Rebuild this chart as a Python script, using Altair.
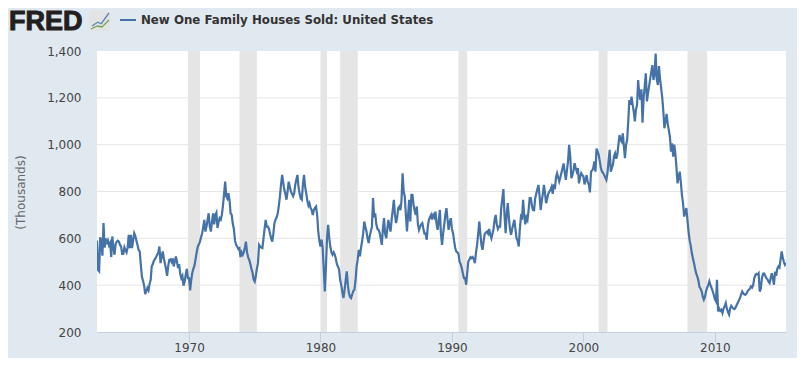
import altair as alt
import pandas as pd

# Monthly sales (thousands), January of each first year onward
v1963_69 = [
    591, 464, 459, 605, 586, 526, 665, 560, 600, 575, 590, 570,
    580, 520, 608, 560, 530, 575, 586, 590, 586, 572, 565, 534,
    534, 562, 550, 540, 560, 615, 558, 615, 558, 590, 622, 610,
    590, 570, 550, 545, 490, 437, 420, 400, 362, 375, 388, 378,
    405, 423, 480, 490, 505, 511, 520, 530, 540, 565, 494, 520,
    544, 515, 494, 470, 440, 480, 508, 510, 500, 515, 480, 500,
    523, 500, 473, 490, 449, 430, 440, 398, 415, 444, 470, 430,
]
v1970_79 = [
    430, 378, 420, 452, 470, 483, 510, 540, 565, 575, 586, 605,
    622, 650, 679, 629, 650, 680, 707, 650, 629, 670, 707, 660,
    700, 710, 644, 670, 686, 680, 700, 740, 790, 842, 779, 770,
    793, 760, 707, 700, 662, 640, 590, 572, 565, 555, 558, 520,
    540, 530, 540, 560, 586, 540, 520, 508, 490, 470, 452, 425,
    416, 440, 470, 494, 572, 565, 560, 558, 600, 640, 679, 650,
    650, 640, 620, 600, 586, 620, 665, 680, 690, 707, 740, 779,
    830, 871, 840, 807, 790, 765, 800, 842, 820, 800, 790, 780,
    793, 830, 850, 871, 820, 790, 770, 765, 830, 871, 820, 793,
    760, 740, 750, 730, 721, 700, 720, 730, 736, 700, 629, 590,
]
v1980_89 = [
    565, 594, 560, 470, 373, 480, 600, 658, 600, 565, 540, 530,
    540, 530, 515, 490, 480, 466, 423, 400, 370, 345, 380, 420,
    459, 400, 366, 350, 345, 360, 375, 380, 420, 480, 510, 551,
    523, 560, 586, 620, 672, 650, 630, 600, 580, 610, 630, 650,
    772, 690, 707, 660, 640, 636, 625, 600, 572, 640, 686, 620,
    600, 640, 679, 650, 629, 680, 720, 764, 700, 665, 690, 729,
    736, 720, 760, 878, 800, 779, 700, 629, 700, 764, 672, 786,
    786, 740, 720, 700, 736, 660, 636, 650, 660, 665, 640, 620,
    620, 594, 650, 679, 690, 700, 680, 700, 690, 714, 660, 636,
    680, 721, 620, 572, 620, 658, 700, 729, 680, 636, 670, 686,
]
v1990_99 = [
    640, 622, 590, 560, 544, 540, 534, 500, 490, 473, 450, 430,
    430, 402, 450, 501, 510, 520, 515, 520, 510, 494, 540, 572,
    620, 672, 620, 570, 551, 590, 620, 625, 629, 620, 640, 615,
    600, 620, 640, 680, 700, 660, 640, 650, 650, 729, 770, 810,
    700, 622, 700, 750, 690, 640, 615, 640, 660, 679, 640, 600,
    590, 565, 636, 690, 680, 764, 700, 660, 690, 679, 720, 772,
    772, 740, 721, 720, 770, 790, 810, 828, 780, 721, 760, 790,
    828, 790, 750, 770, 790, 800, 807, 820, 790, 830, 810, 860,
    878, 860, 843, 860, 880, 900, 920, 880, 850, 890, 930, 999,
    950, 857, 870, 890, 921, 900, 885, 900, 835, 860, 878, 870,
]
v2000_09 = [
    865, 830, 850, 870, 840, 830, 796, 885, 890, 900, 928, 885,
    983, 970, 957, 930, 900, 885, 880, 870, 860, 850, 880, 930,
    978, 885, 900, 914, 950, 963, 940, 957, 1000, 1041, 1020, 1013,
    1048, 990, 942, 1000, 1020, 1100, 1191, 1170, 1205, 1170, 1141, 1099,
    1150, 1170, 1276, 1220, 1191, 1236, 1094, 1200, 1250, 1305, 1185, 1220,
    1250, 1283, 1310, 1340, 1276, 1300, 1389, 1280, 1255, 1336, 1280, 1241,
    1200, 1140, 1070, 1100, 1131, 1090, 1063, 1034, 970, 1006, 949, 1000,
    960, 900, 835, 860, 885, 840, 786, 750, 693, 710, 729, 680,
    629, 590, 570, 537, 515, 494, 470, 450, 437, 420, 392, 385,
    373, 350, 338, 350, 373, 390, 400, 416, 400, 388, 375, 359,
]
v2010_15 = [
    340, 331, 423, 288, 300, 290, 295, 281, 300, 310, 324, 300,
    285, 274, 300, 312, 305, 300, 298, 305, 315, 325, 335, 345,
    360, 373, 365, 360, 359, 365, 375, 380, 385, 395, 390, 400,
    430, 444, 448, 445, 451, 373, 385, 430, 449, 450, 440, 430,
    425, 415, 409, 430, 451, 430, 402, 458, 440, 470, 480, 475,
    510, 544, 520, 500, 487, 495,
]
recession_start = ["1969-12-01", "1973-11-01", "1980-01-01", "1981-07-01", "1990-07-01", "2001-03-01", "2007-12-01"]
recession_end = ["1970-11-01", "1975-03-01", "1980-07-01", "1982-11-01", "1991-03-01", "2001-11-01", "2009-06-01"]
y_ticks = [200, 400, 600, 800, 1000, 1200, 1400]
x_ticks = ["1970-01-01", "1980-01-01", "1990-01-01", "2000-01-01", "2010-01-01"]
series_name = "New One Family Houses Sold: United States"
y_title = "(Thousands)"
icon_blue = [(92, 26, 98, 22), (98, 22, 101, 24), (101, 24, 109, 13)]
icon_green = [(91, 29, 97, 26), (97, 26, 102, 27), (102, 27, 109, 20)]

values = v1963_69 + v1970_79 + v1980_89 + v1990_99 + v2000_09 + v2010_15
dates = pd.date_range("1963-01-01", periods=len(values), freq="MS").strftime("%Y-%m-%d")
df = pd.DataFrame({"date": dates, "value": values, "series": series_name})
rec = pd.DataFrame({"start": recession_start, "end": recession_end})

LEFT, TOP, W, H = 97, 51, 689, 281
x_scale = alt.Scale(type="utc", domain=["1963-01-01", "2015-06-01"])
y_scale = alt.Scale(domain=[200, 1400], nice=False)

y_axis = alt.Axis(
    values=y_ticks, format=",d", labelFontSize=12, labelColor="#444444", labelFont="DejaVu Sans",
    ticks=False, domain=False, grid=False, labelPadding=16,
    titleFontSize=12, titleColor="#666666", titleFont="DejaVu Sans", titleFontWeight="normal",
    titleX=27 - LEFT, titleY=192 - TOP,
)

bands = alt.Chart(rec).mark_rect(color="#e5e5e5").encode(
    x=alt.X("start:T", scale=x_scale, title=None),
    x2="end:T",
)
grid = alt.Chart(pd.DataFrame({"g": y_ticks[1:-1]})).mark_rule(color="#e6e6e6", strokeWidth=1).encode(
    y=alt.Y("g:Q", scale=y_scale, title=y_title, axis=y_axis)
)
line = alt.Chart(df).mark_line(strokeWidth=2.2, interpolate="linear", clip=True).encode(
    x=alt.X(
        "date:T", scale=x_scale, title=None,
        axis=alt.Axis(
            values=x_ticks, format="%Y", labelFontSize=12, labelColor="#444444", labelFont="DejaVu Sans",
            tickColor="#c0d0e0", tickSize=10, domainColor="#c0d0e0", grid=False, labelPadding=0,
        ),
    ),
    y=alt.Y("value:Q", scale=y_scale, title=y_title, axis=y_axis),
    color=alt.Color(
        "series:N",
        scale=alt.Scale(range=["#4572a7"]),
        legend=alt.Legend(
            orient="none", legendX=119 - LEFT, legendY=11 - TOP, title=None, symbolType="stroke",
            symbolSize=256, symbolStrokeWidth=2, labelFontSize=11.8, labelFont="DejaVu Sans",
            labelFontWeight="bold", labelColor="#333333", labelLimit=400, labelOffset=4,
        ),
    ),
)

def pixel_rule(seg, color, width):
    x0, y0, x1, y1 = seg
    return alt.Chart(df.head(1)).mark_rule(color=color, strokeWidth=width, clip=False).encode(
        x=alt.value(x0 - LEFT), x2=alt.value(x1 - LEFT), y=alt.value(y0 - TOP), y2=alt.value(y1 - TOP)
    )

logo_text = alt.Chart(df.head(1)).mark_text(
    text="FRED", font="Liberation Sans", fontWeight="bold", fontSize=27, align="left", baseline="alphabetic",
    color="#231f20", stroke="#231f20", strokeWidth=1, clip=False,
).encode(x=alt.value(9 - LEFT), y=alt.value(30 - TOP))
icon_box = alt.Chart(df.head(1)).mark_rect(color="#e3e3e3", cornerRadius=2, clip=False).encode(
    x=alt.value(89 - LEFT), x2=alt.value(110 - LEFT), y=alt.value(11 - TOP), y2=alt.value(31 - TOP)
)
icon_layers = [pixel_rule(s, "#5b87b5", 1.3) for s in icon_blue] + [pixel_rule(s, "#6fa35a", 1.3) for s in icon_green]

chart = alt.layer(bands, grid, line, logo_text, icon_box, *icon_layers).properties(
    width=W, height=H,
    background="#e1e9f0",
    autosize=alt.AutoSizeParams(type="none"),
    padding={"left": LEFT - 8, "top": TOP - 8, "right": 11, "bottom": 26},
).configure_view(fill="#ffffff", stroke=None)

chart.save("out.html", embed_options={"renderer": "svg", "actions": False})
